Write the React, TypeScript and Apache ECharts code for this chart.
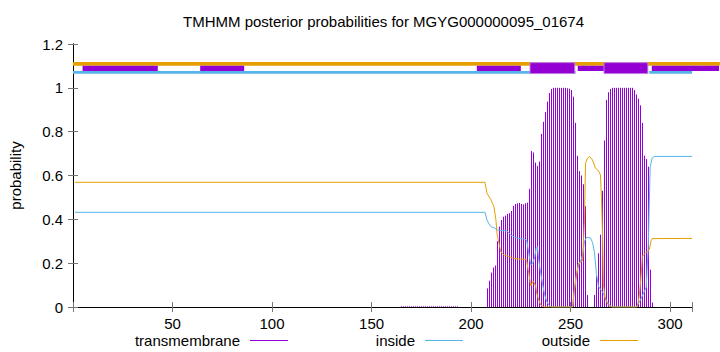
import React, { useEffect, useRef } from "react";
import * as echarts from "echarts";

const TITLE = "TMHMM posterior probabilities for MGYG000000095_01674";
const X_TICKS = [50, 100, 150, 200, 250, 300];
const Y_TICKS = [0, 0.2, 0.4, 0.6, 0.8, 1, 1.2];
const SERIES_NAMES = ["transmembrane", "inside", "outside"];

// transmembrane posterior (impulses) [position, probability]
const transmembrane: [number, number][] = [
  [165, 0.003], [166, 0.003], [167, 0.003], [168, 0.003], [169, 0.003], [170, 0.003],
  [171, 0.003], [172, 0.003], [173, 0.003], [174, 0.003], [175, 0.003], [176, 0.003],
  [177, 0.003], [178, 0.003], [179, 0.003], [180, 0.003], [181, 0.003], [182, 0.003],
  [183, 0.003], [184, 0.003], [185, 0.003], [186, 0.003], [187, 0.003], [188, 0.003],
  [189, 0.003], [190, 0.003], [191, 0.003], [192, 0.003], [193, 0.003],
  [208, 0.085], [209, 0.12], [210, 0.157], [211, 0.18], [212, 0.189], [213, 0.3],
  [214, 0.367], [215, 0.397], [216, 0.412], [217, 0.417], [218, 0.425], [219, 0.428],
  [220, 0.438], [221, 0.461], [222, 0.47], [223, 0.473], [224, 0.475], [225, 0.47],
  [226, 0.468], [227, 0.473], [228, 0.476], [229, 0.539], [230, 0.712], [231, 0.705],
  [232, 0.659], [233, 0.644], [234, 0.664], [235, 0.79], [236, 0.845], [237, 0.89],
  [238, 0.937], [239, 0.976], [240, 0.995], [241, 1.0], [242, 1.0], [243, 1.0],
  [244, 1.0], [245, 1.0], [246, 1.0], [247, 1.0], [248, 0.998], [249, 0.996],
  [250, 0.99], [251, 0.96], [252, 0.84], [253, 0.69], [254, 0.62], [255, 0.6],
  [256, 0.56], [257, 0.46], [258, 0.055],
  [262, 0.055], [263, 0.14], [264, 0.245], [265, 0.33], [266, 0.53], [267, 0.76],
  [268, 0.945], [269, 0.98], [270, 0.995], [271, 1.0], [272, 1.0], [273, 1.0],
  [274, 1.0], [275, 1.0], [276, 1.0], [277, 1.0], [278, 1.0], [279, 1.0], [280, 1.0],
  [281, 1.0], [282, 0.99], [283, 0.97], [284, 0.95], [285, 0.92], [286, 0.84],
  [287, 0.69], [288, 0.675], [289, 0.64], [290, 0.17], [291, 0.02],
];

// inside posterior [position, probability]
const inside: [number, number][] = [
  [1, 0.432], [207, 0.432], [208, 0.397], [209, 0.379], [210, 0.367], [212, 0.359],
  [213, 0.352], [218, 0.347], [220, 0.329], [222, 0.318], [224, 0.313], [227, 0.309],
  [228, 0.303], [229, 0.245], [230, 0.192], [231, 0.2], [232, 0.23], [232.7, 0.268],
  [233.3, 0.275], [234, 0.215], [235, 0.154], [236, 0.1], [237, 0.055], [238, 0.025],
  [239, 0.01], [240, 0.003], [241, 0], [251, 0], [252, 0.085], [253, 0.15],
  [254, 0.19], [255, 0.207], [256, 0.235], [257, 0.3], [258, 0.318], [260, 0.315],
  [261, 0.295], [262, 0.25], [263, 0.15], [264, 0.095], [265, 0.08], [266, 0.07],
  [267, 0.05], [268, 0.03], [269, 0.016], [270, 0.005], [271, 0], [283, 0],
  [285, 0.03], [287, 0.07], [288, 0.09], [289, 0.27], [290, 0.64], [291, 0.68],
  [292, 0.687], [311, 0.687],
];

// outside posterior [position, probability]
const outside: [number, number][] = [
  [1, 0.569], [207, 0.569], [208, 0.519], [210, 0.489], [211.5, 0.458], [212.5, 0.397],
  [213, 0.336], [214, 0.291], [215, 0.25], [216.5, 0.238], [219, 0.23], [221.5, 0.222],
  [224, 0.219], [227.5, 0.218], [228, 0.207], [229, 0.154], [230, 0.096], [231, 0.116],
  [231.5, 0.116], [232.5, 0.093], [233, 0.062], [234, 0.032], [235, 0.009],
  [236.5, 0.002], [237, 0], [251, 0], [252, 0.087], [253, 0.148], [254, 0.2],
  [255, 0.205], [256, 0.21], [257, 0.4], [257.5, 0.656], [258.5, 0.679], [259.5, 0.687],
  [261, 0.671], [262.5, 0.633], [264, 0.622], [265, 0.602], [265.5, 0.5], [266, 0.35],
  [266.5, 0.1], [267.5, 0.032], [269, 0.01], [270, 0], [283.5, 0], [284.5, 0.05],
  [285.5, 0.15], [286, 0.23], [287, 0.242], [288.5, 0.253], [289.5, 0.26],
  [290.5, 0.303], [291, 0.312], [311, 0.313],
];

// predicted topology bands along the top [start, end]
const outsideBar: [number, number][] = [[0, 325]];
const insideBar: [number, number][] = [[0, 252.5], [289.5, 311]];
const tmBoxes: [number, number][] = [
  [4.8, 42.6], [63.9, 86], [202.9, 225], [253.6, 288.8], [290.8, 324.6],
];
const tmBoxesTall: [number, number][] = [[229.6, 252.1], [266.8, 288.8]];

const PURPLE = "#9400d3";
const BLUE = "#56b4e9";
const ORANGE = "#e69f00";
const FONT = "'Liberation Sans', Arial, Helvetica, sans-serif";
const FS = 15;

function band(y0: number, y1: number, fill: string, stroke?: string) {
  return (_params: any, api: any) => {
    const a = api.coord([api.value(0), y1]);
    const b = api.coord([api.value(1), y0]);
    return {
      type: "rect",
      shape: { x: a[0], y: a[1], width: b[0] - a[0], height: b[1] - a[1] },
      style: stroke ? { fill, stroke, lineWidth: 1 } : { fill, lineWidth: 0 },
    };
  };
}

function impulse(_params: any, api: any) {
  const top = api.coord([api.value(0), api.value(1)]);
  const base = api.coord([api.value(0), 0]);
  const x = Math.round(base[0]) + 0.5;
  return {
    type: "line",
    shape: { x1: x, y1: base[1], x2: x, y2: top[1] },
    style: { stroke: PURPLE, lineWidth: 1 },
  };
}

export default function App() {
  const ref = useRef<HTMLDivElement>(null);
  useEffect(() => {
    if (!ref.current) return;
    const chart = echarts.init(ref.current, undefined, { renderer: "svg" });
    const tickStyle = { inside: true, length: 5, lineStyle: { color: "#777" } };
    const axisLineStyle = { show: true, lineStyle: { color: "#000", width: 1 } };
    const legendBase = {
      top: 333,
      align: "right" as const,
      itemWidth: 38,
      itemHeight: 1,
      icon: "rect",
      padding: 0,
      selectedMode: false,
      textStyle: { color: "#000", fontSize: FS, fontFamily: FONT, padding: [0, 5, 0, 0] },
    };
    chart.setOption({
      animation: false,
      backgroundColor: "#fff",
      title: {
        text: TITLE,
        left: 183,
        top: 14,
        padding: 0,
        textStyle: { color: "#000", fontSize: FS, fontWeight: "normal", fontFamily: FONT },
      },
      legend: [
        { ...legendBase, data: [SERIES_NAMES[0]], right: 432 },
        { ...legendBase, data: [SERIES_NAMES[1]], right: 257 },
        { ...legendBase, data: [SERIES_NAMES[2]], right: 82 },
      ],
      grid: { left: 73, right: 28, top: 44, bottom: 45, containLabel: false },
      xAxis: [
        {
          type: "value", min: 0, max: 311, interval: 50, position: "bottom",
          axisLine: axisLineStyle, axisTick: tickStyle, splitLine: { show: false },
          axisLabel: {
            color: "#000", fontSize: FS, fontFamily: FONT, margin: 9,
            formatter: (v: number) => (X_TICKS.includes(v) ? String(v) : ""),
          },
        },
        {
          type: "value", min: 0, max: 311, interval: 50, position: "top",
          axisLine: axisLineStyle, axisTick: tickStyle, splitLine: { show: false },
          axisLabel: { show: false },
        },
      ],
      yAxis: [
        {
          type: "value", min: 0, max: 1.2, interval: 0.2, position: "left",
          name: "probability", nameLocation: "middle", nameGap: 50,
          nameTextStyle: { color: "#000", fontSize: FS, fontFamily: FONT },
          axisLine: axisLineStyle, axisTick: tickStyle, splitLine: { show: false },
          axisLabel: {
            color: "#000", fontSize: FS, fontFamily: FONT, margin: 10,
            formatter: (v: number) => {
              const t = Y_TICKS.find((k) => Math.abs(k - v) < 1e-9);
              return t === undefined ? "" : String(t);
            },
          },
        },
        {
          type: "value", min: 0, max: 1.2, interval: 0.2, position: "right",
          axisLine: axisLineStyle, axisTick: tickStyle, splitLine: { show: false },
          axisLabel: { show: false },
        },
      ],
      series: [
        {
          name: SERIES_NAMES[0], type: "custom", data: transmembrane,
          encode: { x: 0, y: 1 }, renderItem: impulse,
          color: PURPLE, itemStyle: { color: PURPLE }, silent: true,
        },
        {
          name: SERIES_NAMES[1], type: "line", data: inside, showSymbol: false,
          color: BLUE, lineStyle: { color: BLUE, width: 1 }, silent: true,
        },
        {
          name: SERIES_NAMES[2], type: "line", data: outside, showSymbol: false,
          color: ORANGE, lineStyle: { color: ORANGE, width: 1 }, silent: true,
        },
        {
          type: "custom", data: outsideBar, clip: false, encode: { x: [0, 1] }, silent: true,
          renderItem: band(1.101, 1.118, ORANGE),
        },
        {
          type: "custom", data: insideBar, clip: false, encode: { x: [0, 1] }, silent: true,
          renderItem: band(1.064, 1.077, BLUE),
        },
        {
          type: "custom", data: tmBoxes, clip: false, encode: { x: [0, 1] }, silent: true,
          renderItem: band(1.077, 1.101, PURPLE),
        },
        {
          type: "custom", data: tmBoxesTall, clip: false, encode: { x: [0, 1] }, silent: true,
          renderItem: band(1.065, 1.115, PURPLE, "#c27be6"),
        },
      ],
    });
    return () => chart.dispose();
  }, []);
  return (
    <div
      ref={ref}
      style={{ position: "fixed", left: 0, top: 0, width: 720, height: 352, background: "#fff" }}
    />
  );
}
